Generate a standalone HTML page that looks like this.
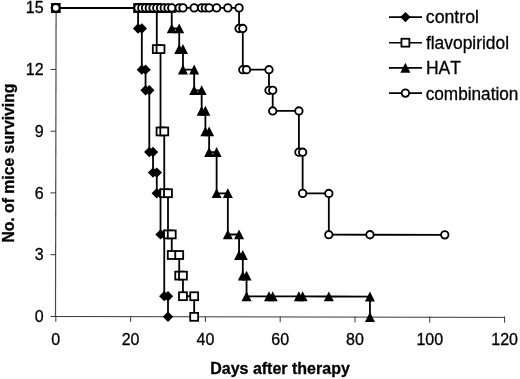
<!DOCTYPE html>
<html><head><meta charset="utf-8"><title>Survival</title>
<style>html,body{margin:0;padding:0;background:#fff}svg{display:block}text{font-kerning:none;stroke:#000;stroke-width:0.3px;font-family:"Liberation Sans",sans-serif;fill:#000}</style></head><body>
<svg width="520" height="379" viewBox="0 0 520 379">
<defs><filter id="soft" x="0" y="0" width="520" height="379" filterUnits="userSpaceOnUse"><feGaussianBlur stdDeviation="0.4"/></filter></defs>
<rect width="520" height="379" fill="#fff"/>
<g filter="url(#soft)">
<g stroke="#383838" stroke-width="1" fill="none">
<line x1="56.1" y1="7" x2="55.5" y2="317" stroke="#4a4a4a" stroke-width="1.2"/>
<line x1="50.5" y1="316.5" x2="505" y2="317.4"/>
<line x1="50.5" y1="254.66" x2="55.8" y2="254.66"/>
<line x1="50.5" y1="192.92" x2="55.8" y2="192.92"/>
<line x1="50.5" y1="131.18" x2="55.8" y2="131.18"/>
<line x1="50.5" y1="69.44" x2="55.8" y2="69.44"/>
<line x1="50.5" y1="7.7" x2="55.8" y2="7.7"/>
<line x1="55.8" y1="316.5" x2="55.8" y2="321.72"/>
<line x1="130.6" y1="316.5" x2="130.6" y2="321.89"/>
<line x1="205.4" y1="316.5" x2="205.4" y2="322.05"/>
<line x1="280.2" y1="316.5" x2="280.2" y2="322.22"/>
<line x1="355" y1="316.5" x2="355" y2="322.38"/>
<line x1="429.8" y1="316.5" x2="429.8" y2="322.55"/>
<line x1="504.6" y1="316.5" x2="504.6" y2="322.71"/>
</g>
<g font-size="16">
<text x="43.6" y="322" text-anchor="end">0</text>
<text x="43.6" y="260.26" text-anchor="end">3</text>
<text x="43.6" y="198.52" text-anchor="end">6</text>
<text x="43.6" y="136.78" text-anchor="end">9</text>
<text x="43.6" y="75.04" text-anchor="end">12</text>
<text x="43.6" y="13.3" text-anchor="end">15</text>
<text x="55.8" y="345.3" text-anchor="middle">0</text>
<text x="130.6" y="345.3" text-anchor="middle">20</text>
<text x="205.4" y="345.3" text-anchor="middle">40</text>
<text x="280.2" y="345.3" text-anchor="middle">60</text>
<text x="355" y="345.3" text-anchor="middle">80</text>
<text x="429.8" y="345.3" text-anchor="middle">100</text>
<text x="504.6" y="345.3" text-anchor="middle">120</text>
</g>
<text x="280" y="373.9" font-size="16" font-weight="bold" text-anchor="middle">Days after therapy</text>
<text transform="translate(13.8 163.1) rotate(-90)" font-size="15.72" font-weight="bold" text-anchor="middle">No. of mice surviving</text>
<g>
<polyline fill="none" stroke="#000" stroke-width="1.8" stroke-linejoin="miter" points="55.8,7.9 138.08,7.9 138.08,28.49 141.82,28.49 141.82,69.66 145.56,69.66 145.56,90.25 149.3,90.26 149.3,152.02 153.04,152.03 153.04,172.61 156.78,172.62 156.78,193.21 160.52,193.21 160.52,234.39 164.26,234.4 164.26,296.17 168,296.18 168,316.77"/>
<path d="M50.6 7.9L55.8 2.7L61 7.9L55.8 13.1Z" fill="#000"/>
<path d="M132.88 7.9L138.08 2.7L143.28 7.9L138.08 13.1Z" fill="#000"/>
<path d="M132.88 28.49L138.08 23.29L143.28 28.49L138.08 33.69Z" fill="#000"/>
<path d="M136.62 28.49L141.82 23.29L147.02 28.49L141.82 33.69Z" fill="#000"/>
<path d="M136.62 69.66L141.82 64.46L147.02 69.66L141.82 74.86Z" fill="#000"/>
<path d="M140.36 69.66L145.56 64.46L150.76 69.66L145.56 74.86Z" fill="#000"/>
<path d="M140.36 90.25L145.56 85.05L150.76 90.25L145.56 95.45Z" fill="#000"/>
<path d="M144.1 90.26L149.3 85.06L154.5 90.26L149.3 95.46Z" fill="#000"/>
<path d="M144.1 152.02L149.3 146.82L154.5 152.02L149.3 157.22Z" fill="#000"/>
<path d="M147.84 152.03L153.04 146.83L158.24 152.03L153.04 157.23Z" fill="#000"/>
<path d="M147.84 172.61L153.04 167.41L158.24 172.61L153.04 177.81Z" fill="#000"/>
<path d="M151.58 172.62L156.78 167.42L161.98 172.62L156.78 177.82Z" fill="#000"/>
<path d="M151.58 193.21L156.78 188.01L161.98 193.21L156.78 198.41Z" fill="#000"/>
<path d="M155.32 193.21L160.52 188.01L165.72 193.21L160.52 198.41Z" fill="#000"/>
<path d="M155.32 234.39L160.52 229.19L165.72 234.39L160.52 239.59Z" fill="#000"/>
<path d="M159.06 234.4L164.26 229.2L169.46 234.4L164.26 239.6Z" fill="#000"/>
<path d="M159.06 296.17L164.26 290.97L169.46 296.17L164.26 301.37Z" fill="#000"/>
<path d="M162.8 296.18L168 290.98L173.2 296.18L168 301.38Z" fill="#000"/>
<path d="M162.8 316.77L168 311.57L173.2 316.77L168 321.97Z" fill="#000"/>
</g>
<g>
<polyline fill="none" stroke="#000" stroke-width="1.8" stroke-linejoin="miter" points="55.8,7.9 138.08,7.9 141.82,7.9 145.56,7.9 149.3,7.9 153.04,7.9 156.78,7.9 156.78,49.08 160.52,49.08 160.52,131.44 164.26,131.45 164.26,193.22 168,193.22 168,234.41 171.74,234.41 171.74,255 179.22,255.02 179.22,275.61 182.96,275.62 182.96,296.21 194.18,296.23 194.18,316.83"/>
<rect x="51.85" y="3.95" width="7.9" height="7.9" fill="#fff" stroke="#000" stroke-width="1.8"/>
<rect x="134.13" y="3.95" width="7.9" height="7.9" fill="#fff" stroke="#000" stroke-width="1.8"/>
<rect x="137.87" y="3.95" width="7.9" height="7.9" fill="#fff" stroke="#000" stroke-width="1.8"/>
<rect x="141.61" y="3.95" width="7.9" height="7.9" fill="#fff" stroke="#000" stroke-width="1.8"/>
<rect x="145.35" y="3.95" width="7.9" height="7.9" fill="#fff" stroke="#000" stroke-width="1.8"/>
<rect x="149.09" y="3.95" width="7.9" height="7.9" fill="#fff" stroke="#000" stroke-width="1.8"/>
<rect x="152.83" y="3.95" width="7.9" height="7.9" fill="#fff" stroke="#000" stroke-width="1.8"/>
<rect x="152.83" y="45.13" width="7.9" height="7.9" fill="#fff" stroke="#000" stroke-width="1.8"/>
<rect x="156.57" y="45.13" width="7.9" height="7.9" fill="#fff" stroke="#000" stroke-width="1.8"/>
<rect x="156.57" y="127.49" width="7.9" height="7.9" fill="#fff" stroke="#000" stroke-width="1.8"/>
<rect x="160.31" y="127.5" width="7.9" height="7.9" fill="#fff" stroke="#000" stroke-width="1.8"/>
<rect x="160.31" y="189.27" width="7.9" height="7.9" fill="#fff" stroke="#000" stroke-width="1.8"/>
<rect x="164.05" y="189.27" width="7.9" height="7.9" fill="#fff" stroke="#000" stroke-width="1.8"/>
<rect x="164.05" y="230.46" width="7.9" height="7.9" fill="#fff" stroke="#000" stroke-width="1.8"/>
<rect x="167.79" y="230.46" width="7.9" height="7.9" fill="#fff" stroke="#000" stroke-width="1.8"/>
<rect x="167.79" y="251.05" width="7.9" height="7.9" fill="#fff" stroke="#000" stroke-width="1.8"/>
<rect x="175.27" y="251.07" width="7.9" height="7.9" fill="#fff" stroke="#000" stroke-width="1.8"/>
<rect x="175.27" y="271.66" width="7.9" height="7.9" fill="#fff" stroke="#000" stroke-width="1.8"/>
<rect x="179.01" y="271.67" width="7.9" height="7.9" fill="#fff" stroke="#000" stroke-width="1.8"/>
<rect x="179.01" y="292.26" width="7.9" height="7.9" fill="#fff" stroke="#000" stroke-width="1.8"/>
<rect x="190.23" y="292.28" width="7.9" height="7.9" fill="#fff" stroke="#000" stroke-width="1.8"/>
<rect x="190.23" y="312.88" width="7.9" height="7.9" fill="#fff" stroke="#000" stroke-width="1.8"/>
</g>
<g>
<polyline fill="none" stroke="#000" stroke-width="1.8" stroke-linejoin="miter" points="55.8,7.9 138.08,7.9 141.82,7.9 145.56,7.9 149.3,7.9 153.04,7.9 156.78,7.9 160.52,7.9 164.26,7.9 168,7.9 171.74,7.9 171.74,28.49 179.22,28.49 179.22,49.09 182.96,49.09 182.96,69.68 194.18,69.69 194.18,90.28 201.66,90.29 201.66,110.88 205.4,110.88 205.4,131.48 209.14,131.49 209.14,152.08 216.62,152.09 216.62,193.29 227.84,193.3 227.84,234.5 239.06,234.52 239.06,255.12 242.8,255.13 242.8,275.73 246.54,275.74 246.54,296.34 268.98,296.39 272.72,296.4 298.9,296.45 302.64,296.46 328.82,296.51 369.96,296.6 369.96,317.22"/>
<path d="M55.8 2.8L60.8 12.7L50.8 12.7Z" fill="#000"/>
<path d="M138.08 2.8L143.08 12.7L133.08 12.7Z" fill="#000"/>
<path d="M141.82 2.8L146.82 12.7L136.82 12.7Z" fill="#000"/>
<path d="M145.56 2.8L150.56 12.7L140.56 12.7Z" fill="#000"/>
<path d="M149.3 2.8L154.3 12.7L144.3 12.7Z" fill="#000"/>
<path d="M153.04 2.8L158.04 12.7L148.04 12.7Z" fill="#000"/>
<path d="M156.78 2.8L161.78 12.7L151.78 12.7Z" fill="#000"/>
<path d="M160.52 2.8L165.52 12.7L155.52 12.7Z" fill="#000"/>
<path d="M164.26 2.8L169.26 12.7L159.26 12.7Z" fill="#000"/>
<path d="M168 2.8L173 12.7L163 12.7Z" fill="#000"/>
<path d="M171.74 2.8L176.74 12.7L166.74 12.7Z" fill="#000"/>
<path d="M171.74 23.39L176.74 33.29L166.74 33.29Z" fill="#000"/>
<path d="M179.22 23.39L184.22 33.29L174.22 33.29Z" fill="#000"/>
<path d="M179.22 43.99L184.22 53.89L174.22 53.89Z" fill="#000"/>
<path d="M182.96 43.99L187.96 53.89L177.96 53.89Z" fill="#000"/>
<path d="M182.96 64.58L187.96 74.48L177.96 74.48Z" fill="#000"/>
<path d="M194.18 64.59L199.18 74.49L189.18 74.49Z" fill="#000"/>
<path d="M194.18 85.18L199.18 95.08L189.18 95.08Z" fill="#000"/>
<path d="M201.66 85.19L206.66 95.09L196.66 95.09Z" fill="#000"/>
<path d="M201.66 105.78L206.66 115.68L196.66 115.68Z" fill="#000"/>
<path d="M205.4 105.78L210.4 115.68L200.4 115.68Z" fill="#000"/>
<path d="M205.4 126.38L210.4 136.28L200.4 136.28Z" fill="#000"/>
<path d="M209.14 126.39L214.14 136.29L204.14 136.29Z" fill="#000"/>
<path d="M209.14 146.98L214.14 156.88L204.14 156.88Z" fill="#000"/>
<path d="M216.62 146.99L221.62 156.89L211.62 156.89Z" fill="#000"/>
<path d="M216.62 188.19L221.62 198.09L211.62 198.09Z" fill="#000"/>
<path d="M227.84 188.2L232.84 198.1L222.84 198.1Z" fill="#000"/>
<path d="M227.84 229.4L232.84 239.3L222.84 239.3Z" fill="#000"/>
<path d="M239.06 229.42L244.06 239.32L234.06 239.32Z" fill="#000"/>
<path d="M239.06 250.02L244.06 259.92L234.06 259.92Z" fill="#000"/>
<path d="M242.8 250.03L247.8 259.93L237.8 259.93Z" fill="#000"/>
<path d="M242.8 270.63L247.8 280.53L237.8 280.53Z" fill="#000"/>
<path d="M246.54 270.64L251.54 280.54L241.54 280.54Z" fill="#000"/>
<path d="M246.54 291.24L251.54 301.14L241.54 301.14Z" fill="#000"/>
<path d="M268.98 291.29L273.98 301.19L263.98 301.19Z" fill="#000"/>
<path d="M272.72 291.3L277.72 301.2L267.72 301.2Z" fill="#000"/>
<path d="M298.9 291.35L303.9 301.25L293.9 301.25Z" fill="#000"/>
<path d="M302.64 291.36L307.64 301.26L297.64 301.26Z" fill="#000"/>
<path d="M328.82 291.41L333.82 301.31L323.82 301.31Z" fill="#000"/>
<path d="M369.96 291.5L374.96 301.4L364.96 301.4Z" fill="#000"/>
<path d="M369.96 312.12L374.96 322.02L364.96 322.02Z" fill="#000"/>
</g>
<g>
<polyline fill="none" stroke="#000" stroke-width="1.8" stroke-linejoin="miter" points="55.8,7.9 138.08,7.9 141.82,7.9 145.56,7.9 149.3,7.9 153.04,7.9 156.78,7.9 160.52,7.9 164.26,7.9 168,7.9 171.74,7.9 179.22,7.9 182.96,7.9 194.18,7.9 201.66,7.9 205.4,7.9 209.14,7.9 216.62,7.9 227.84,7.9 239.06,7.9 239.06,28.5 242.8,28.5 242.8,69.71 246.54,69.71 268.98,69.72 268.98,90.33 272.72,90.33 272.72,110.93 298.9,110.95 298.9,152.18 302.64,152.18 302.64,193.4 328.82,193.44 328.82,234.67 369.96,234.73 444.76,234.85"/>
<circle cx="55.8" cy="7.9" r="3.72" fill="#fff" stroke="#000" stroke-width="1.85"/>
<circle cx="138.08" cy="7.9" r="3.72" fill="#fff" stroke="#000" stroke-width="1.85"/>
<circle cx="141.82" cy="7.9" r="3.72" fill="#fff" stroke="#000" stroke-width="1.85"/>
<circle cx="145.56" cy="7.9" r="3.72" fill="#fff" stroke="#000" stroke-width="1.85"/>
<circle cx="149.3" cy="7.9" r="3.72" fill="#fff" stroke="#000" stroke-width="1.85"/>
<circle cx="153.04" cy="7.9" r="3.72" fill="#fff" stroke="#000" stroke-width="1.85"/>
<circle cx="156.78" cy="7.9" r="3.72" fill="#fff" stroke="#000" stroke-width="1.85"/>
<circle cx="160.52" cy="7.9" r="3.72" fill="#fff" stroke="#000" stroke-width="1.85"/>
<circle cx="164.26" cy="7.9" r="3.72" fill="#fff" stroke="#000" stroke-width="1.85"/>
<circle cx="168" cy="7.9" r="3.72" fill="#fff" stroke="#000" stroke-width="1.85"/>
<circle cx="171.74" cy="7.9" r="3.72" fill="#fff" stroke="#000" stroke-width="1.85"/>
<circle cx="179.22" cy="7.9" r="3.72" fill="#fff" stroke="#000" stroke-width="1.85"/>
<circle cx="182.96" cy="7.9" r="3.72" fill="#fff" stroke="#000" stroke-width="1.85"/>
<circle cx="194.18" cy="7.9" r="3.72" fill="#fff" stroke="#000" stroke-width="1.85"/>
<circle cx="201.66" cy="7.9" r="3.72" fill="#fff" stroke="#000" stroke-width="1.85"/>
<circle cx="205.4" cy="7.9" r="3.72" fill="#fff" stroke="#000" stroke-width="1.85"/>
<circle cx="209.14" cy="7.9" r="3.72" fill="#fff" stroke="#000" stroke-width="1.85"/>
<circle cx="216.62" cy="7.9" r="3.72" fill="#fff" stroke="#000" stroke-width="1.85"/>
<circle cx="227.84" cy="7.9" r="3.72" fill="#fff" stroke="#000" stroke-width="1.85"/>
<circle cx="239.06" cy="7.9" r="3.72" fill="#fff" stroke="#000" stroke-width="1.85"/>
<circle cx="239.06" cy="28.5" r="3.72" fill="#fff" stroke="#000" stroke-width="1.85"/>
<circle cx="242.8" cy="28.5" r="3.72" fill="#fff" stroke="#000" stroke-width="1.85"/>
<circle cx="242.8" cy="69.71" r="3.72" fill="#fff" stroke="#000" stroke-width="1.85"/>
<circle cx="246.54" cy="69.71" r="3.72" fill="#fff" stroke="#000" stroke-width="1.85"/>
<circle cx="268.98" cy="69.72" r="3.72" fill="#fff" stroke="#000" stroke-width="1.85"/>
<circle cx="268.98" cy="90.33" r="3.72" fill="#fff" stroke="#000" stroke-width="1.85"/>
<circle cx="272.72" cy="90.33" r="3.72" fill="#fff" stroke="#000" stroke-width="1.85"/>
<circle cx="272.72" cy="110.93" r="3.72" fill="#fff" stroke="#000" stroke-width="1.85"/>
<circle cx="298.9" cy="110.95" r="3.72" fill="#fff" stroke="#000" stroke-width="1.85"/>
<circle cx="298.9" cy="152.18" r="3.72" fill="#fff" stroke="#000" stroke-width="1.85"/>
<circle cx="302.64" cy="152.18" r="3.72" fill="#fff" stroke="#000" stroke-width="1.85"/>
<circle cx="302.64" cy="193.4" r="3.72" fill="#fff" stroke="#000" stroke-width="1.85"/>
<circle cx="328.82" cy="193.44" r="3.72" fill="#fff" stroke="#000" stroke-width="1.85"/>
<circle cx="328.82" cy="234.67" r="3.72" fill="#fff" stroke="#000" stroke-width="1.85"/>
<circle cx="369.96" cy="234.73" r="3.72" fill="#fff" stroke="#000" stroke-width="1.85"/>
<circle cx="444.76" cy="234.85" r="3.72" fill="#fff" stroke="#000" stroke-width="1.85"/>
</g>
<g font-size="17.5">
<line x1="389" y1="17.1" x2="422" y2="17.1" stroke="#000" stroke-width="1.6"/>
<path d="M400.2 17.1L405.4 11.9L410.6 17.1L405.4 22.3Z" fill="#000"/>
<text x="425.8" y="23.2" textLength="53.2" lengthAdjust="spacingAndGlyphs">control</text>
<line x1="389" y1="42.7" x2="422" y2="42.7" stroke="#000" stroke-width="1.6"/>
<rect x="401.45" y="38.75" width="7.9" height="7.9" fill="#fff" stroke="#000" stroke-width="1.8"/>
<text x="425.9" y="48.8" textLength="83.2" lengthAdjust="spacingAndGlyphs">flavopiridol</text>
<line x1="389" y1="67.9" x2="422" y2="67.9" stroke="#000" stroke-width="1.6"/>
<path d="M405.4 62.8L410.4 72.7L400.4 72.7Z" fill="#000"/>
<text x="425.9" y="74.3" textLength="35.0" lengthAdjust="spacingAndGlyphs">HAT</text>
<line x1="389" y1="93.1" x2="422" y2="93.1" stroke="#000" stroke-width="1.6"/>
<circle cx="405.4" cy="93.1" r="3.72" fill="#fff" stroke="#000" stroke-width="1.85"/>
<text x="425.7" y="99.5" textLength="92.7" lengthAdjust="spacingAndGlyphs">combination</text>
</g>
</g>
</svg></body></html>
